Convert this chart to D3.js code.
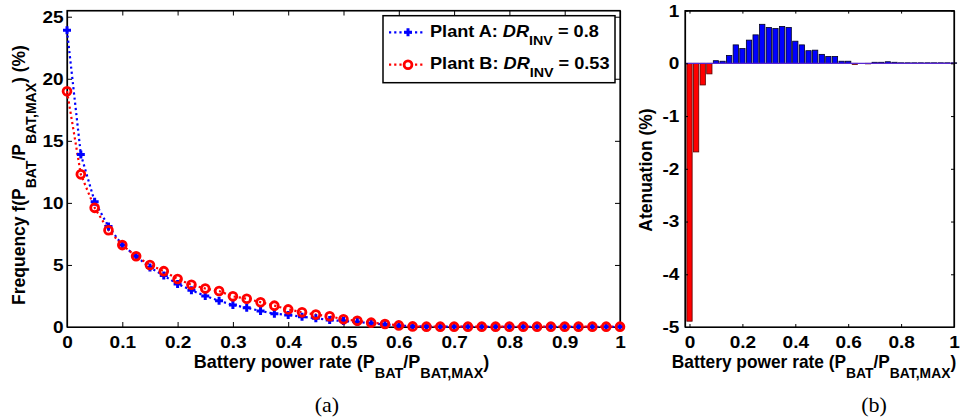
<!DOCTYPE html>
<html><head><meta charset="utf-8">
<script src="https://cdn.jsdelivr.net/npm/d3@7/dist/d3.min.js"></script>
<style>
html,body{margin:0;padding:0;background:#fff;}
svg{display:block;font-family:"Liberation Sans",Arial,sans-serif;}
</style></head><body>
<svg id="chart" width="962" height="419"></svg>
<script>
// ---------- data ----------
const batteryRate = [0,0.025,0.05,0.075,0.1,0.125,0.15,0.175,0.2,0.225,0.25,0.275,0.3,0.325,0.35,0.375,0.4,0.425,0.45,0.475,0.5,0.525,0.55,0.575,0.6,0.625,0.65,0.675,0.7,0.725,0.75,0.775,0.8,0.825,0.85,0.875,0.9,0.925,0.95,0.975,1];
const plantA = [23.9,13.9,10.1,8.1,6.6,5.7,4.8,4.14,3.47,2.96,2.5,2.12,1.77,1.56,1.29,1.07,0.97,0.83,0.7,0.56,0.48,0.4,0.3,0.2,0.11,0.06,0.04,0.03,0.03,0.02,0.02,0.02,0.02,0.02,0.02,0.02,0.02,0.02,0.02,0.02,0.02];
const plantB = [19.0,12.3,9.6,7.8,6.6,5.7,5.0,4.5,3.87,3.4,3.1,2.9,2.47,2.28,2.0,1.72,1.42,1.18,1.0,0.87,0.62,0.5,0.35,0.24,0.13,0.05,0.03,0.03,0.03,0.03,0.03,0.03,0.03,0.03,0.03,0.03,0.03,0.03,0.03,0.03,0.03];
const attenuation = [-4.89,-1.68,-0.41,-0.20,0.05,0.04,0.15,0.35,0.28,0.44,0.54,0.74,0.68,0.66,0.70,0.68,0.42,0.35,0.24,0.25,0.17,0.13,0.13,0.04,0.04,-0.02,0.0,-0.01,0.02,0.02,0.03,0.02,0.01,0.01,0.01,0.01,0.01,0.01,0.01,0.01,0.01];
const seriesNames = ["Plant A", "Plant B"];
const seriesDR = ["0.8", "0.53"];
const ticksAX = [0,0.1,0.2,0.3,0.4,0.5,0.6,0.7,0.8,0.9,1];
const ticksAY = [0,5,10,15,20,25];
const ticksBX = [0,0.2,0.4,0.6,0.8,1];
const ticksBY = [-5,-4,-3,-2,-1,0,1];

// ---------- setup ----------
const svg = d3.select("#chart");
const SX = 1.12;
const FONT = "Liberation Sans, Arial, sans-serif";
const TICK_SIZE = 17;

function styleAxis(g, size){
  g.selectAll("path.domain").attr("stroke","#000").attr("stroke-width",1.2);
  g.selectAll(".tick line").attr("stroke","#000").attr("stroke-width",1);
  g.selectAll(".tick text").attr("font-size",size).attr("font-weight","bold")
    .attr("font-family",FONT).attr("fill","#000");
}

// label with subscripts: parts = [[text, isSub, italic]]
function richText(g, parts, size, subSize, subShift){
  const t = g.append("text").attr("font-family",FONT).attr("font-weight","bold")
    .attr("font-size",size).attr("fill","#000");
  let prevSub = false;
  parts.forEach(p=>{
    const ts = t.append("tspan").text(p[0]);
    if(p[1]){ ts.attr("font-size",subSize); if(!prevSub) ts.attr("dy",subShift); }
    else if(prevSub){ ts.attr("dy",-subShift); }
    if(p[2]) ts.attr("font-style","italic");
    prevSub = p[1];
  });
  return t;
}
const labelParts = [["Battery power rate (P",false],["BAT",true],["/P",false],["BAT,MAX",true],[")",false]];

// ================= Panel (a) =================
const A = {l:67, r:620, t:10.5, b:327};
const xA = d3.scaleLinear().domain([0,1]).range([A.l,A.r]);
const yA = d3.scaleLinear().domain([0,25.5]).range([A.b,A.t]);

const gA = svg.append("g");
gA.append("rect").attr("x",A.l).attr("y",A.t).attr("width",A.r-A.l).attr("height",A.b-A.t)
  .attr("fill","#fff").attr("stroke","#000").attr("stroke-width",1.2);

const axAB = gA.append("g").attr("transform",`translate(0,${A.b})`)
  .call(d3.axisBottom(xA).tickValues(ticksAX).tickFormat(d3.format("~g")).tickSizeInner(-5).tickSizeOuter(0).tickPadding(9));
styleAxis(axAB,TICK_SIZE);
axAB.selectAll(".tick text").attr("transform",`scale(${SX},1)`);
const axAL = gA.append("g").attr("transform",`translate(${A.l},0)`)
  .call(d3.axisLeft(yA).tickValues(ticksAY).tickFormat(d3.format("~g")).tickSizeInner(-5).tickSizeOuter(0).tickPadding(3));
styleAxis(axAL,TICK_SIZE);
axAL.selectAll(".tick text").attr("transform",`scale(${SX},1)`);
const axAT = gA.append("g").attr("transform",`translate(0,${A.t})`)
  .call(d3.axisTop(xA).tickValues(ticksAX).tickFormat("").tickSizeInner(-5).tickSizeOuter(0));
styleAxis(axAT,0);
const axAR = gA.append("g").attr("transform",`translate(${A.r},0)`)
  .call(d3.axisRight(yA).tickValues(ticksAY).tickFormat("").tickSizeInner(-5).tickSizeOuter(0));
styleAxis(axAR,0);

const line = d3.line().x((d,i)=>xA(batteryRate[i])).y(d=>yA(d));
const dash = "2.2,3";
gA.append("path").datum(plantA).attr("d",line).attr("fill","none").attr("stroke","#0000ff")
  .attr("stroke-width",2.2).attr("stroke-dasharray",dash);
gA.append("path").datum(plantB).attr("d",line).attr("fill","none").attr("stroke","#ff0000")
  .attr("stroke-width",2.2).attr("stroke-dasharray",dash);

const plusPath = (cx,cy,s)=>`M${cx-s},${cy}H${cx+s}M${cx},${cy-s}V${cy+s}`;
gA.append("g").selectAll("path").data(plantA).join("path")
  .attr("d",(d,i)=>plusPath(xA(batteryRate[i]),yA(d),4))
  .attr("stroke","#0000ff").attr("stroke-width",3).attr("fill","none");
gA.append("g").selectAll("circle").data(plantB).join("circle")
  .attr("cx",(d,i)=>xA(batteryRate[i])).attr("cy",d=>yA(d)).attr("r",3.9)
  .attr("fill","none").attr("stroke","#ff0000").attr("stroke-width",2.8);

// legend
const L = {x:383, y:15.7, w:232, h:67};
const gL = gA.append("g");
gL.append("rect").attr("x",L.x).attr("y",L.y).attr("width",L.w).attr("height",L.h)
  .attr("fill","#fff").attr("stroke","#000").attr("stroke-width",1.5);
const legendRows = [
  {y:32.3, color:"#0000ff", marker:"plus", name:seriesNames[0], dr:seriesDR[0]},
  {y:64.7, color:"#ff0000", marker:"circle", name:seriesNames[1], dr:seriesDR[1]}
];
legendRows.forEach(r=>{
  gL.append("line").attr("x1",389).attr("x2",425).attr("y1",r.y).attr("y2",r.y)
    .attr("stroke",r.color).attr("stroke-width",2.2).attr("stroke-dasharray",dash);
  if(r.marker==="plus"){
    gL.append("path").attr("d",plusPath(408,r.y,4)).attr("stroke",r.color).attr("stroke-width",3);
  } else {
    gL.append("circle").attr("cx",408).attr("cy",r.y).attr("r",3.9).attr("fill","#fff")
      .attr("stroke",r.color).attr("stroke-width",2.8);
  }
  const tg = gL.append("g").attr("transform",`translate(430,${r.y+4.5}) scale(1.1,1)`);
  richText(tg,[[r.name+": ",false],["DR",false,true],["INV",true],[" = "+r.dr,false]],16.5,13,8);
});

// axis labels
const xlabA = svg.append("g").attr("transform",`translate(${(A.l+A.r)/2-2},368) scale(1.03,1)`);
richText(xlabA,labelParts,17.5,14,10).attr("text-anchor","middle");
const ylabA = svg.append("g").attr("transform",`translate(25,175) rotate(-90) scale(1,1.06)`);
richText(ylabA,[["Frequency f(P",false],["BAT",true],["/P",false],["BAT,MAX",true],[") (%)",false]],17.5,14,10)
  .attr("text-anchor","middle");

svg.append("text").attr("x",327).attr("y",412).attr("text-anchor","middle")
  .attr("font-family","Liberation Serif, Times New Roman, serif").attr("font-size",22).text("(a)");

// ================= Panel (b) =================
const B = {l:685, r:954, t:10.6, b:327};
const xB = d3.scaleLinear().domain([-0.017,1]).range([B.l,B.r]);
const yB = d3.scaleLinear().domain([-5,1]).range([B.b,B.t]);
const gB = svg.append("g");
gB.append("rect").attr("x",B.l).attr("y",B.t).attr("width",B.r-B.l).attr("height",B.b-B.t)
  .attr("fill","#fff").attr("stroke","#000").attr("stroke-width",1.2);

const bw = (xB(batteryRate[1])-xB(batteryRate[0]))*0.8;
gB.append("g").selectAll("rect").data(attenuation).join("rect")
  .attr("x",(d,i)=>xB(batteryRate[i])-bw/2)
  .attr("y",d=>yB(Math.max(d,0)))
  .attr("width",bw)
  .attr("height",d=>Math.abs(yB(d)-yB(0)))
  .attr("fill",d=>d<0?"#ff0000":"#0000ff")
  .attr("stroke",d=>d<0?"#5a0000":"#000020").attr("stroke-width",0.8);
gB.append("line").attr("x1",B.l).attr("x2",B.r).attr("y1",yB(0)).attr("y2",yB(0))
  .attr("stroke","#5a28d0").attr("stroke-width",1.3);

const axBB = gB.append("g").attr("transform",`translate(0,${B.b})`)
  .call(d3.axisBottom(xB).tickValues(ticksBX).tickFormat(d3.format("~g")).tickSizeInner(-3).tickSizeOuter(0).tickPadding(9));
styleAxis(axBB,TICK_SIZE);
axBB.selectAll(".tick text").attr("transform",`scale(${SX},1)`);
const axBL = gB.append("g").attr("transform",`translate(${B.l},0)`)
  .call(d3.axisLeft(yB).tickValues(ticksBY).tickFormat(d3.format("~g")).tickSizeInner(-3).tickSizeOuter(0).tickPadding(5));
styleAxis(axBL,TICK_SIZE);
axBL.selectAll(".tick text").attr("transform",`scale(${SX},1)`).text(d=>d<0?"-"+Math.abs(d):d);
const axBT = gB.append("g").attr("transform",`translate(0,${B.t})`)
  .call(d3.axisTop(xB).tickValues(ticksBX).tickFormat("").tickSizeInner(-3).tickSizeOuter(0));
styleAxis(axBT,0);
const axBR = gB.append("g").attr("transform",`translate(${B.r},0)`)
  .call(d3.axisRight(yB).tickValues(ticksBY).tickFormat("").tickSizeInner(-3).tickSizeOuter(0));
styleAxis(axBR,0);

const xlabB = svg.append("g").attr("transform",`translate(814,368) scale(0.99,1)`);
richText(xlabB,labelParts,17.5,14,10).attr("text-anchor","middle");
const ylabB = svg.append("g").attr("transform",`translate(652,170) rotate(-90) scale(1,1.06)`);
richText(ylabB,[["Atenuation (%)",false]],17.5,14,10).attr("text-anchor","middle");

svg.append("text").attr("x",874).attr("y",412).attr("text-anchor","middle")
  .attr("font-family","Liberation Serif, Times New Roman, serif").attr("font-size",22).text("(b)");
</script>
</body></html>
